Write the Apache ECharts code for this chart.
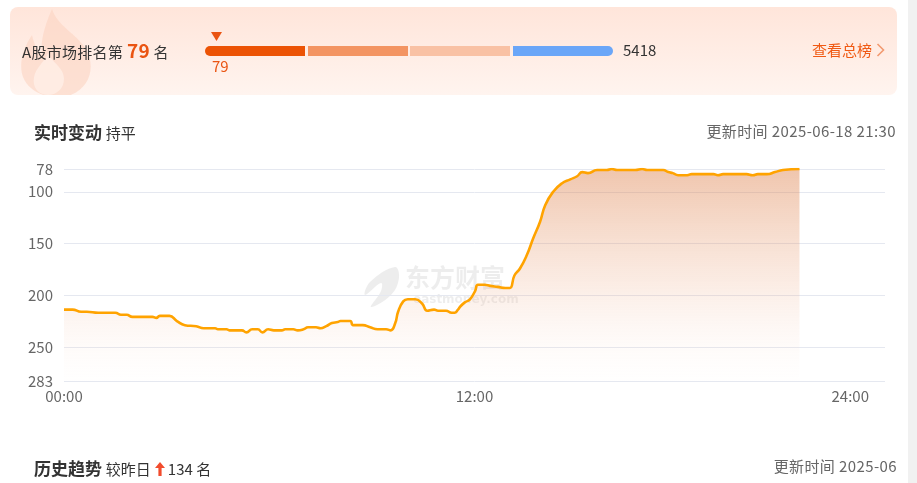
<!DOCTYPE html>
<html>
<head>
<meta charset="utf-8">
<script src="https://cdn.jsdelivr.net/npm/echarts@6/dist/echarts.min.js"></script>
<style>
html,body{margin:0;padding:0;width:917px;height:483px;overflow:hidden;background:#fff;
  font-family:"Noto Sans CJK SC","Noto Sans",sans-serif;color:#333;}
.abs{position:absolute;white-space:nowrap;}
#banner{left:10px;top:7px;width:887px;height:88px;border-radius:8px;
  background:linear-gradient(180deg,#FFE5DA 0%,#FFF4EF 100%);overflow:hidden;z-index:0;}
#chart{left:0;top:0;width:917px;height:483px;z-index:1;}
.t{z-index:2;}
.seg{position:absolute;top:0;height:10px;width:100px;}
#scroll{left:908px;top:0;width:9px;height:483px;background:#F1F1F1;z-index:3;}
</style>
</head>
<body>
<div id="banner" class="abs">
  <svg style="position:absolute;left:8px;top:2px" width="80" height="88" viewBox="0 0 80 88">
    <path d="M34 0 C40 18 58 24 68 40 C78 58 72 80 50 87 C36 91 12 86 5 68 C0 54 6 38 14 26 C16 36 20 42 24 46 C22 30 28 14 34 0 Z" fill="#FBD3C1" opacity="0.6"/>
    <path d="M30 44 C34 54 46 58 46 70 C46 80 38 86 30 86 C20 86 14 78 16 68 C18 58 26 54 30 44 Z" fill="#FFF1EA" opacity="0.7"/>
  </svg>
</div>
<div id="chart" class="abs"></div>

<div class="abs t" style="left:22px;top:39px;line-height:22px;font-size:15px;letter-spacing:0.3px;color:#333;">A股市场排名第 <span style="font-size:19px;font-weight:bold;color:#EA5412;">79</span> 名</div>
<div class="abs t" style="left:205px;top:46px;width:408px;height:10px;">
  <div class="seg" style="left:0;background:#EC5305;border-radius:5px 0 0 5px;"></div>
  <div class="seg" style="left:103px;background:#F39462;"></div>
  <div class="seg" style="left:205px;background:#F9C1A4;"></div>
  <div class="seg" style="left:308px;background:#6AA6F8;border-radius:0 5px 5px 0;"></div>
</div>
<svg class="abs t" style="left:211px;top:32px" width="11" height="9" viewBox="0 0 11 9"><path d="M0 0 L11 0 L5.5 9 Z" fill="#EA5412"/></svg>
<div class="abs t" style="left:212px;top:56px;line-height:20px;font-size:15px;color:#EA5412;">79</div>
<div class="abs t" style="left:623px;top:40px;line-height:20px;font-size:15px;color:#333;">5418</div>
<div class="abs t" style="left:812px;top:40px;line-height:20px;font-size:15px;color:#F05A14;">查看总榜</div>
<svg class="abs t" style="left:876px;top:43px" width="9" height="14" viewBox="0 0 9 14"><path d="M1.5 1 L7.5 7 L1.5 13" fill="none" stroke="#F29A70" stroke-width="1.6"/></svg>

<div class="abs t" style="left:34px;top:120px;line-height:24px;font-size:17px;color:#333;"><b>实时变动</b> <span style="font-size:15px;">持平</span></div>
<div class="abs t" style="right:21px;top:120px;line-height:22px;font-size:15px;letter-spacing:0.4px;color:#666;">更新时间 2025-06-18 21:30</div>

<div class="abs t" style="left:34px;top:456px;line-height:24px;font-size:17px;color:#333;"><b>历史趋势</b> <span style="font-size:15px;">较昨日<svg width="12" height="14" viewBox="0 0 12 14" style="vertical-align:-1px;margin:0 2px 0 3px"><path d="M6 0 L11 6 L7.6 6 L7.6 14 L4.4 14 L4.4 6 L1 6 Z" fill="#F24C2D"/></svg>134 名</span></div>
<div class="abs t" style="right:20px;top:455px;line-height:22px;font-size:15px;letter-spacing:0.4px;color:#666;">更新时间 2025-06</div>

<div id="scroll" class="abs"></div>

<script>
// ---- data ----
const times = ['00:00','00:15','00:30','00:40','01:00','01:30','01:40','01:50','02:00','02:35',
  '02:42','02:48','03:05','03:18','03:32','03:52','04:05','04:25','04:30','04:45',
  '04:50','05:12','05:20','05:30','05:40','05:48','05:58','06:08','06:22','06:28',
  '06:42','06:50','07:00','07:08','07:22','07:30','07:40','07:50','08:00','08:05',
  '08:22','08:27','08:44','08:57','09:10','09:25','09:33','09:41','09:46','09:55',
  '10:03','10:16','10:28','10:37','10:49','10:56','11:10','11:20','11:25','11:31',
  '11:35','11:43','11:52','12:01','12:06','12:18','12:27','12:41','12:54','13:02',
  '13:10','13:20','13:32','13:43','13:55','14:04','14:18','14:33','14:48','15:00',
  '15:09','15:19','15:35','15:52','16:01','16:10','16:42','16:54','17:03','17:31',
  '17:40','17:48','17:57','18:13','18:21','18:59','19:07','19:16','19:57','20:08',
  '20:17','20:33','20:47','21:01','21:30'];
const ranks = [214,214,216,216,217,217,219,219,221,221,
  222,220,220,225,229,230,232,232,233,233,
  234,234,236,233,233,236,233,234,234,233,
  233,234,233,231,231,232,230,227,226,225,
  225,229,229,231,233,233,234,227,216,206,
  204,204,208,215,214,215,215,217,217,214,
  211,207,204,196,190,190,191,192,193,193,
  181,174,161,145,129,113,100,92,88,85,
  81,82,79,79,78,79,79,78,79,79,
  81,82,84,84,83,83,84,83,83,84,
  83,83,81,79,78];
const yTicks = [78,100,150,200,250,283];
const xTickLabels = ['00:00','12:00','24:00'];
const yMin = 78, yMax = 283;

function toMin(s){ const p = s.split(':'); return Number(p[0]) * 60 + Number(p[1]); }
const seriesData = times.map((t, i) => [toMin(t), ranks[i]]);

const chart = echarts.init(document.getElementById('chart'), null, {renderer:'canvas'});
const FONT = '"Noto Sans CJK SC","Noto Sans",sans-serif';
chart.setOption({
  animation:false,
  backgroundColor:'transparent',
  textStyle:{fontFamily:FONT},
  grid:{left:64,right:32,top:169,bottom:102,containLabel:false},
  xAxis:{
    type:'value', min:0, max:1440, interval:720,
    axisLine:{show:false}, axisTick:{show:false}, splitLine:{show:false},
    axisLabel:{
      color:'#666', fontSize:15, margin:8, fontFamily:FONT,
      alignMaxLabel:'right',
      formatter:function(v){
        const lbl = xTickLabels[Math.round(v/720)];
        return v === 1440 ? '{r|' + lbl + '}' : lbl;
      },
      rich:{r:{color:'#666', fontSize:15, fontFamily:FONT, padding:[0,16,0,0]}}
    }
  },
  yAxis:{
    type:'value', inverse:true, min:yMin, max:yMax,
    axisLine:{show:false},
    axisTick:{show:false, customValues:yTicks},
    axisLabel:{color:'#666', fontSize:15, margin:11, fontFamily:FONT, customValues:yTicks},
    splitLine:{show:true, lineStyle:{color:'#E5E8F0', width:1}}
  },
  graphic:[
    {type:'polygon', z:0,
      shape:{smooth:0.4, points:[[395,267],[399,278],[391,295],[371,307],[381,291],[381,283],[365,295],[370,282]]},
      style:{fill:'rgba(0,0,0,0.07)'}},
    {type:'text', x:405, y:265, z:0,
      style:{text:'东方财富', fontSize:25, fontWeight:'bold', fontFamily:FONT, fill:'rgba(0,0,0,0.07)'}},
    {type:'text', x:413, y:294, z:0,
      style:{text:'eastmoney.com', fontSize:12, fontWeight:'bold', fontFamily:'"DejaVu Sans",sans-serif', fill:'rgba(0,0,0,0.07)'}}
  ],
  series:[{
    type:'line', data:seriesData, smooth:true, symbol:'none', z:2,
    lineStyle:{color:'#FFA300', width:2.6},
    areaStyle:{
      origin:'end',
      color:{type:'linear', x:0, y:0, x2:0, y2:1,
        colorStops:[{offset:0,color:'rgba(218,118,60,0.6)'},{offset:0.55,color:'rgba(232,150,105,0.25)'},{offset:1,color:'rgba(255,240,232,0.05)'}]}
    }
  }]
});
</script>
</body>
</html>
